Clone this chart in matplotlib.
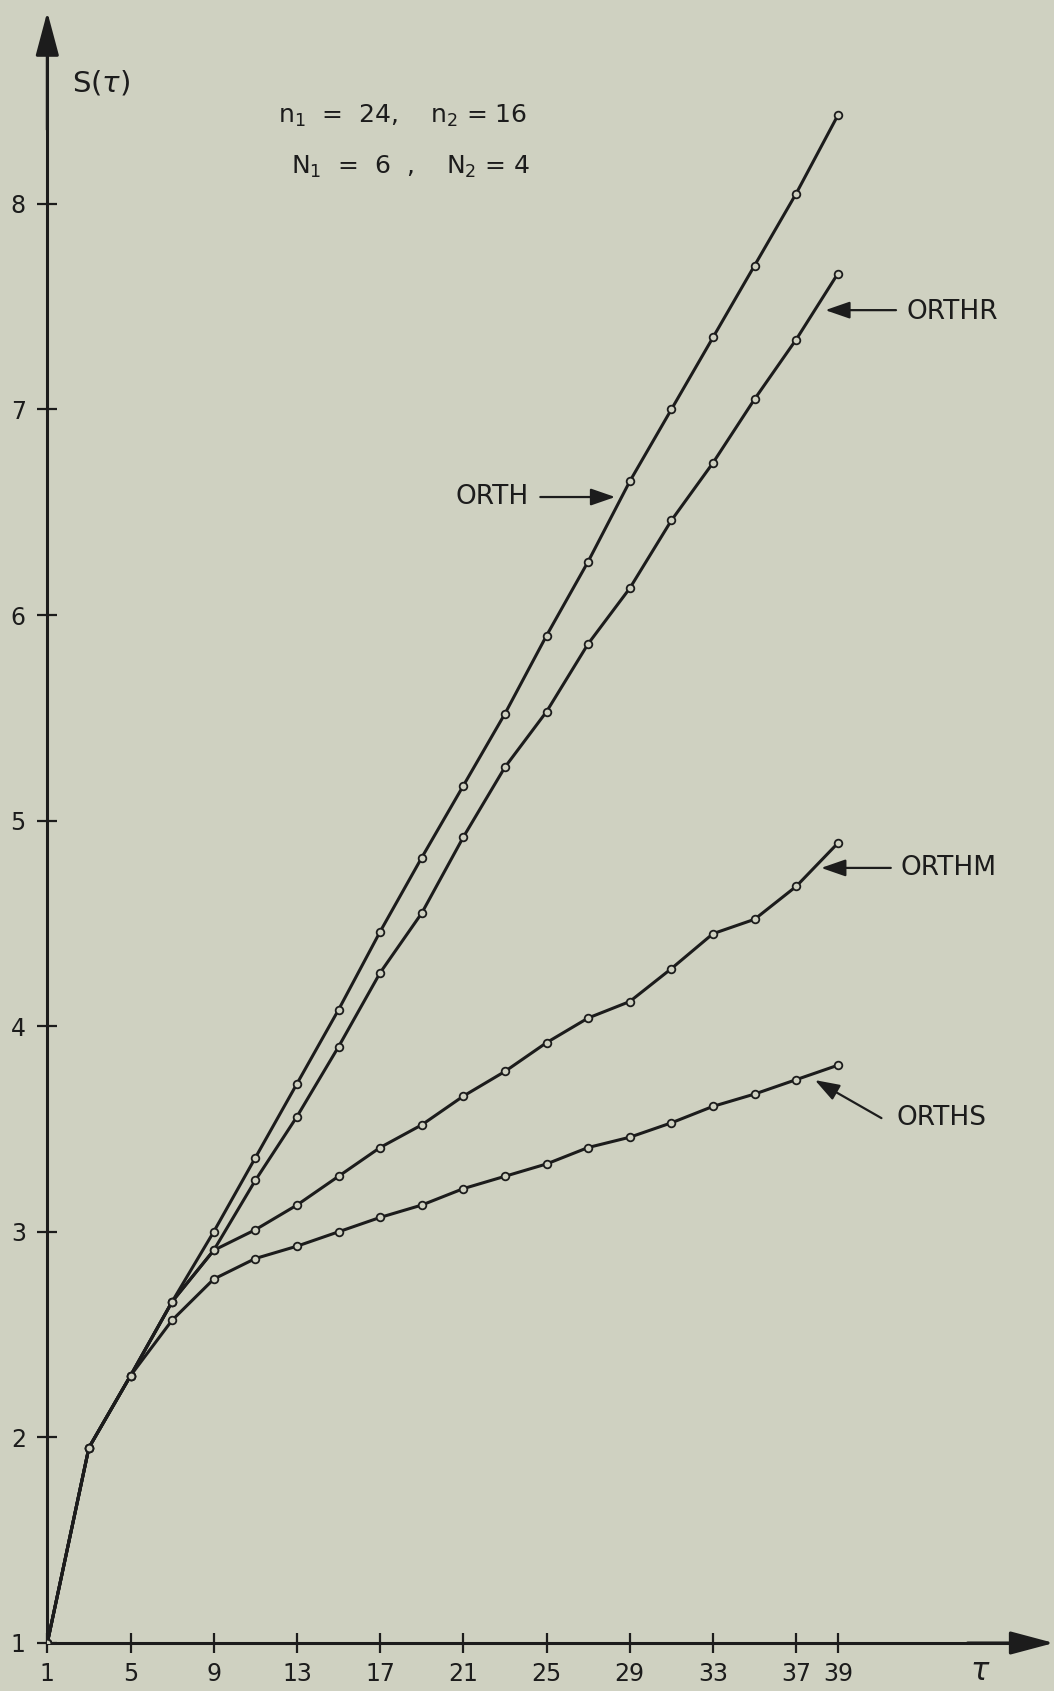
import matplotlib
matplotlib.use("Agg")
import matplotlib.pyplot as plt

# --- data (tau at odd steps) ---
tau = [1, 3, 5, 7, 9, 11, 13, 15, 17, 19, 21, 23, 25, 27, 29, 31, 33, 35, 37, 39]

s_orth = [1.00, 1.95, 2.30, 2.66, 3.00, 3.36, 3.72, 4.08, 4.46, 4.82,
          5.17, 5.52, 5.90, 6.26, 6.65, 7.00, 7.35, 7.70, 8.05, 8.43]
s_orthr = [1.00, 1.95, 2.30, 2.66, 2.91, 3.25, 3.56, 3.90, 4.26, 4.55,
           4.92, 5.26, 5.53, 5.86, 6.13, 6.46, 6.74, 7.05, 7.34, 7.66]
s_orthm = [1.00, 1.95, 2.30, 2.66, 2.91, 3.01, 3.13, 3.27, 3.41, 3.52,
           3.66, 3.78, 3.92, 4.04, 4.12, 4.28, 4.45, 4.52, 4.68, 4.89]
s_orths = [1.00, 1.95, 2.30, 2.57, 2.77, 2.87, 2.93, 3.00, 3.07, 3.13,
           3.21, 3.27, 3.33, 3.41, 3.46, 3.53, 3.61, 3.67, 3.74, 3.81]

x_ticks = [1, 5, 9, 13, 17, 21, 25, 29, 33, 37, 39]
y_ticks = [1, 2, 3, 4, 5, 6, 7, 8]

BG = "#cfd1c1"
INK = "#1c1c1c"

plt.rcParams["font.family"] = ["DejaVu Sans"]
plt.rcParams["mathtext.fontset"] = "dejavusans"

fig = plt.figure(figsize=(10.54, 16.91), dpi=100, facecolor=BG)
ax = fig.add_axes([0.04488, 0.02839, 0.9191, 0.9420])
ax.set_facecolor(BG)

for s in (s_orth, s_orthr, s_orthm, s_orths):
    ax.plot(tau, s, color=INK, lw=2.2, marker="o", ms=5.5,
            mfc=BG, mec=INK, mew=1.3, zorder=3)

ax.set_xlim(1, 47.57)
ax.set_ylim(1, 8.748)

# axes: only left/bottom, with arrowheads
for side in ("top", "right"):
    ax.spines[side].set_visible(False)
for side in ("left", "bottom"):
    ax.spines[side].set_linewidth(2.2)
    ax.spines[side].set_color(INK)

arrow_kw = dict(arrowstyle="-|>,head_length=1.35,head_width=0.36",
                color=INK, lw=2.2, mutation_scale=20, shrinkA=0, shrinkB=0)
ax.annotate("", xy=(1.039, 0), xytext=(0.95, 0), xycoords="axes fraction",
            arrowprops=arrow_kw, annotation_clip=False)
ax.annotate("", xy=(0, 1.024), xytext=(0, 0.95), xycoords="axes fraction",
            arrowprops=arrow_kw, annotation_clip=False)

ax.set_xticks(x_ticks)
ax.set_yticks(y_ticks)
ax.tick_params(axis="both", direction="inout", length=15, width=1.6,
               colors=INK, labelsize=17)
ax.tick_params(axis="x", pad=6)
ax.tick_params(axis="y", pad=8)

# labels
ax.text(2.2, 8.59, r"S($\tau$)", fontsize=21, color=INK, va="center")
ax.text(12.1, 8.43, r"n$_1$  =  24,    n$_2$ = 16", fontsize=18, color=INK, va="center")
ax.text(12.7, 8.18, r"N$_1$  =  6  ,    N$_2$ = 4", fontsize=18, color=INK, va="center")
fig.text(980 / 1054, 1 - 1672 / 1691, r"$\tau$", fontsize=22, color=INK,
         ha="center", va="center")

lab_arrow = dict(arrowstyle="-|>,head_length=0.75,head_width=0.26",
                 color=INK, lw=1.6, mutation_scale=20, shrinkA=0, shrinkB=0)
ax.annotate("", xy=(28.3, 6.574), xytext=(24.7, 6.574), arrowprops=lab_arrow)
ax.text(20.6, 6.574, "ORTH", fontsize=19, color=INK, va="center")

ax.annotate("", xy=(38.4, 7.483), xytext=(41.8, 7.483), arrowprops=lab_arrow,
            annotation_clip=False)
ax.text(42.3, 7.475, "ORTHR", fontsize=19, color=INK, va="center")

ax.annotate("", xy=(38.2, 4.77), xytext=(41.55, 4.77), arrowprops=lab_arrow,
            annotation_clip=False)
ax.text(42.0, 4.77, "ORTHM", fontsize=19, color=INK, va="center")

ax.annotate("", xy=(37.9, 3.738), xytext=(41.1, 3.553), arrowprops=lab_arrow,
            annotation_clip=False)
ax.text(41.8, 3.553, "ORTHS", fontsize=19, color=INK, va="center")

fig.savefig("out.png", dpi=100, facecolor=BG)
